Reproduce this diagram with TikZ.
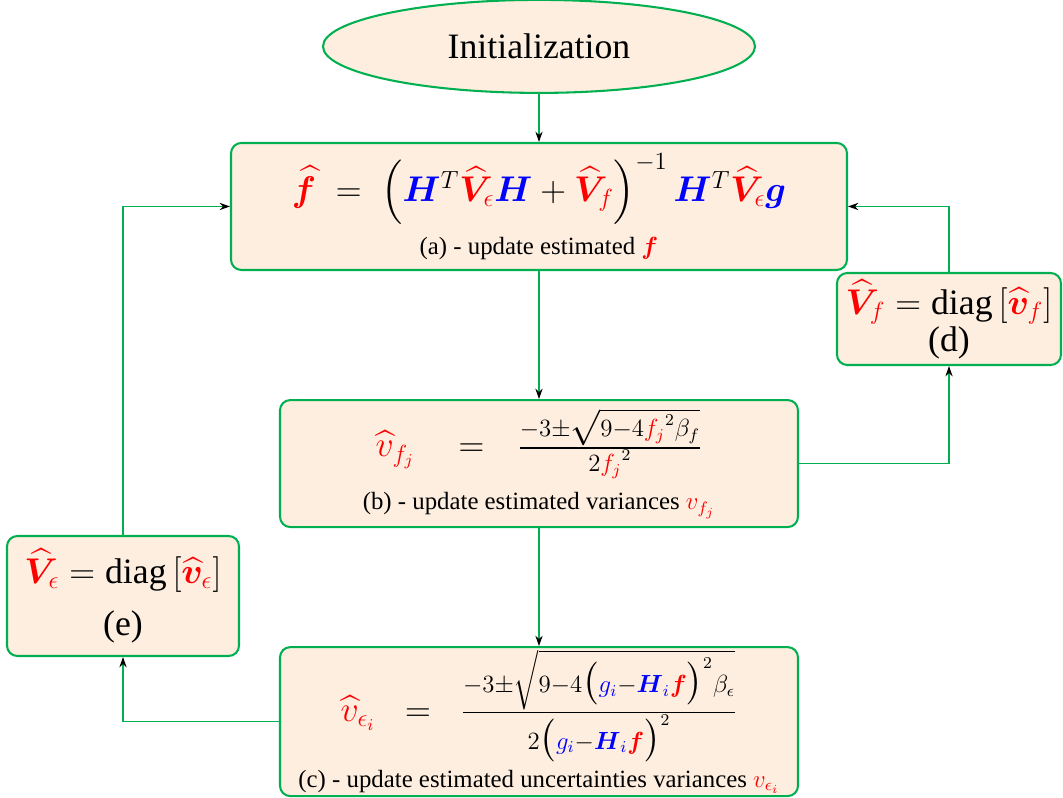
\documentclass[tikz,border=0pt]{standalone}
\usepackage{amsmath}
\usepackage{bm}
\usepackage[no-math]{fontspec}
\setmainfont{Liberation Serif}
\usepackage{xcolor}
\usetikzlibrary{shapes.geometric, arrows.meta, positioning}

\definecolor{boxgreen}{RGB}{0,176,80}
\definecolor{boxfill}{RGB}{253,238,224}
\newcommand{\colR}[1]{{\color{red}#1}}
\newcommand{\colB}[1]{{\color{blue}#1}}
\newcommand{\bigHf}{\mbox{\large$\colB{\bm H}$}_{\colB{i}}\mbox{\large$\colR{\bm f}$}}

\tikzset{
  stepbox/.style={rectangle, draw=boxgreen, line width=1pt, rounded corners=5pt,
                  fill=boxfill, align=center, inner sep=0pt},
  startnode/.style={ellipse, draw=boxgreen, line width=1pt, fill=boxfill, inner sep=0pt},
  arrow/.style={-{Stealth[black, length=5pt, width=3.5pt]}, draw=boxgreen, line width=0.5pt},
}

\begin{document}
\begin{tikzpicture}

\useasboundingbox (0,0) rectangle (18.071,13.549);

% --- main loop --------------------------------------------------------------
\node[stepbox, minimum width=10.472cm, minimum height=2.159cm] (upf) at (9.163,10.039)
  {{\fontsize{16.5}{19}\selectfont $\colR{\widehat{\bm f}}\;=\;\left(\colB{\bm H}^T\colR{\widehat{\bm V}_{\epsilon}}\colB{\bm H}
    +\colR{\widehat{\bm V}_f}\right)^{-1}\colB{\bm H}^T\colR{\widehat{\bm V}_{\epsilon}}\colB{\bm g}$}\\[5pt]
   \large (a) - update estimated $\colR{\bm f}$};

\node[startnode, minimum width=7.344cm, minimum height=1.581cm, above=0.816cm of upf] (init)
  {\LARGE Initialization};

\node[stepbox, minimum width=8.806cm, minimum height=2.159cm, below=2.176cm of upf] (upvf)
  {{\fontsize{16.5}{19}\selectfont $\colR{\widehat{v}_{f_j}}\quad=\enspace\,\frac{-3\pm\sqrt{9-4{\colR{f_j}}^2\beta_f}}{2{\colR{f_j}}^2}$}\\[6pt]
   \large (b) - update estimated variances $\colR{v_{f_j}}$};

\node[stepbox, minimum width=8.806cm, minimum height=2.533cm, below=2.006cm of upvf] (upve)
  {{\fontsize{16.5}{19}\selectfont $\colR{\widehat{v}_{\epsilon_i}}\;\;=\;\;\frac{-3\pm\sqrt{9-4\bigl(\colB{g_i}-\bigHf\bigr)^2\beta_\epsilon}}
    {2\bigl(\colB{g_i}-\bigHf\bigr)^2}$}\\[3pt]
   \large (c) - update estimated uncertainties variances $\colR{v_{\epsilon_i}}$};

% --- side boxes -------------------------------------------------------------
\node[stepbox, minimum width=3.808cm, minimum height=1.564cm] (diagf) at (16.133,8.126)
  {\LARGE $\colR{\widehat{\bm V}_f}=\text{diag}\left[\colR{\widehat{\bm v}_f}\right]$\\[0pt]
   \LARGE (d)};

\node[stepbox, minimum width=3.944cm, minimum height=2.040cm] (diage) at (2.091,3.417)
  {\LARGE $\colR{\widehat{\bm V}_\epsilon}=\text{diag}\left[\colR{\widehat{\bm v}_\epsilon}\right]$\\[8pt]
   \LARGE (e)};

% --- connectors -------------------------------------------------------------
\draw[arrow] (init.south) -- (init.south |- upf.north);
\draw[arrow] (upf) -- (upvf);
\draw[arrow] (upvf) -- (upve);
\draw[arrow] (upve.west) -| (diage.south);
\draw[arrow] (diage.north) |- (upf.west);
\draw[arrow] (upvf.east) -| (diagf.south);
\draw[arrow] (diagf.north) |- (upf.east);

\end{tikzpicture}
\end{document}
